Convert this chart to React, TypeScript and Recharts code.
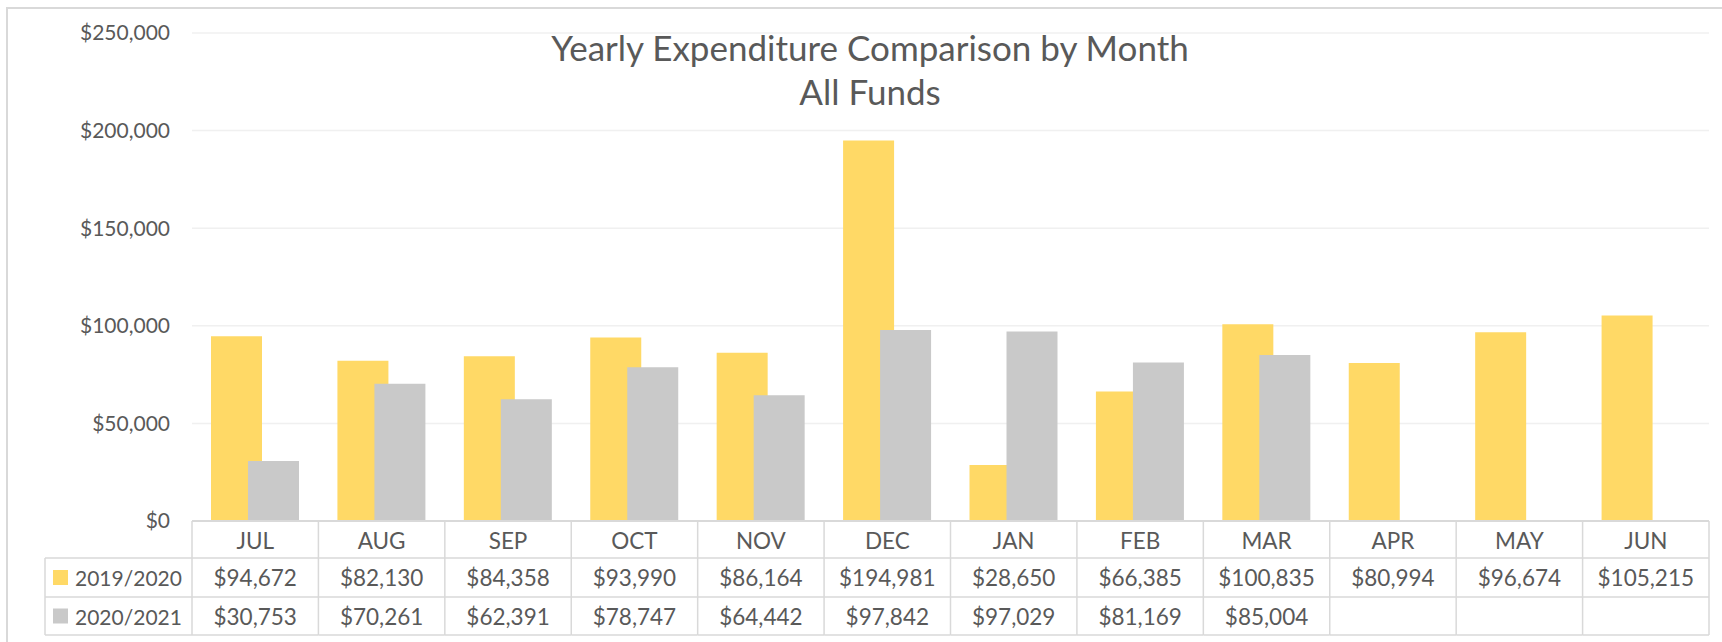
import { BarChart, Bar, XAxis, YAxis, CartesianGrid } from 'recharts';

const months = ['JUL', 'AUG', 'SEP', 'OCT', 'NOV', 'DEC', 'JAN', 'FEB', 'MAR', 'APR', 'MAY', 'JUN'];
const fy2019 = [94672, 82130, 84358, 93990, 86164, 194981, 28650, 66385, 100835, 80994, 96674, 105215];
const fy2020: (number | null)[] = [30753, 70261, 62391, 78747, 64442, 97842, 97029, 81169, 85004, null, null, null];
const seriesNames = ['2019/2020', '2020/2021'];
const yTicks = [0, 50000, 100000, 150000, 200000, 250000];

const W = 1722;
const H = 642;
const PLOT_LEFT = 192;
const PLOT_RIGHT = 1709;
const BAND = (PLOT_RIGHT - PLOT_LEFT) / months.length;

const YELLOW = '#FFD966';
const GRAY = '#C9C9C9';
const TEXT = '#595959';
const LINE = '#D9D9D9';
const FONT = 'Lato, "Noto Sans", sans-serif';
const CELL_FONT = 22.5;

const data = months.map((m, i) => ({ month: m, a: fy2019[i], b: fy2020[i] }));

const money = (v: number | null) => (v == null ? '' : '$' + v.toLocaleString('en-US'));

// row boundaries relative to the axis line
const ROWS = [0, 37, 76, 114];

function TableTick(props: any) {
  const { x, y, payload } = props;
  const i = payload.index;
  const left = x - BAND / 2;
  const right = x + BAND / 2;
  const vals = [fy2019[i], fy2020[i]];
  return (
    <g>
      <line x1={left} y1={y} x2={left} y2={y + ROWS[3]} stroke={LINE} strokeWidth={1.5} />
      {i === months.length - 1 && (
        <line x1={right} y1={y} x2={right} y2={y + ROWS[3]} stroke={LINE} strokeWidth={1.5} />
      )}
      {ROWS.slice(1).map((r) => (
        <line key={r} x1={left} y1={y + r} x2={right} y2={y + r} stroke={LINE} strokeWidth={1.5} />
      ))}
      <text x={x} y={y + 19} textAnchor="middle" dominantBaseline="central" fill={TEXT} fontSize={CELL_FONT} fontFamily={FONT}>
        {payload.value}
      </text>
      {vals.map((v, k) => (
        <text key={k} x={x} y={y + (ROWS[k + 1] + ROWS[k + 2]) / 2} textAnchor="middle" dominantBaseline="central" fill={TEXT} fontSize={CELL_FONT} fontFamily={FONT}>
          {money(v)}
        </text>
      ))}
      {i === 0 && (
        <g>
          <line x1={45} y1={y + ROWS[1]} x2={45} y2={y + ROWS[3]} stroke={LINE} strokeWidth={1.5} />
          {ROWS.slice(1).map((r) => (
            <line key={r} x1={45} y1={y + r} x2={left} y2={y + r} stroke={LINE} strokeWidth={1.5} />
          ))}
          {seriesNames.map((name, k) => {
            const cy = y + (ROWS[k + 1] + ROWS[k + 2]) / 2;
            return (
              <g key={name}>
                <rect x={53} y={cy - 7.5} width={15} height={15} fill={k === 0 ? YELLOW : GRAY} />
                <text x={75} y={cy} dominantBaseline="central" fill={TEXT} fontSize={21} fontFamily={FONT}>
                  {name}
                </text>
              </g>
            );
          })}
        </g>
      )}
    </g>
  );
}

export default function App() {
  return (
    <div style={{ position: 'absolute', left: 0, top: 0, width: W, height: H, overflow: 'hidden', background: '#fff' }}>
      <div style={{ position: 'absolute', left: 6, top: 7, width: W + 20, height: H + 20, border: `2px solid ${LINE}`, boxSizing: 'border-box' }} />
      <BarChart
        width={W}
        height={H}
        data={data}
        margin={{ top: 33, right: W - PLOT_RIGHT, bottom: 0, left: 0 }}
        barGap={-14}
        barSize={51}
      >
        <CartesianGrid vertical={false} stroke="#F0F0F0" strokeWidth={1.5} />
        <YAxis
          width={PLOT_LEFT}
          domain={[0, 250000]}
          ticks={yTicks}
          axisLine={false}
          tickLine={false}
          tickMargin={16}
          tickFormatter={(v: number) => money(v)}
          tick={{ fill: TEXT, fontSize: 21, fontFamily: FONT }}
        />
        <XAxis
          dataKey="month"
          height={H - 521}
          interval={0}
          tickLine={false}
          tickSize={0}
          tickMargin={0}
          axisLine={{ stroke: LINE, strokeWidth: 2 }}
          tick={<TableTick />}
        />
        <Bar dataKey="a" name={seriesNames[0]} fill={YELLOW} isAnimationActive={false} />
        <Bar dataKey="b" name={seriesNames[1]} fill={GRAY} isAnimationActive={false} />
      </BarChart>
      <div
        style={{
          position: 'absolute',
          left: 870 - 500,
          top: 24.5,
          width: 1000,
          textAlign: 'center',
          fontFamily: FONT,
          fontSize: 35,
          lineHeight: '44px',
          color: TEXT,
        }}
      >
        Yearly Expenditure Comparison by Month
        <br />
        All Funds
      </div>
    </div>
  );
}
